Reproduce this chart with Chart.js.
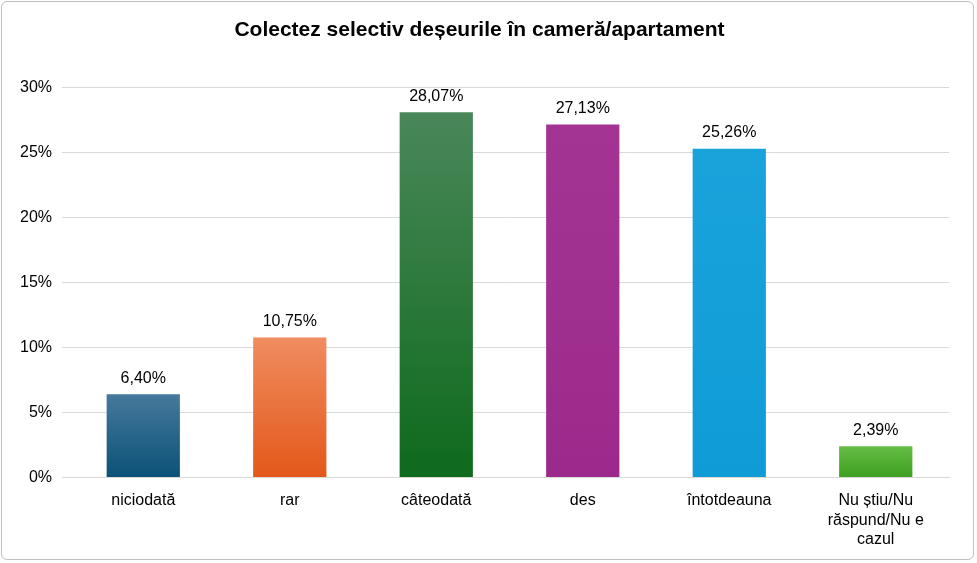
<!DOCTYPE html>
<html><head><meta charset="utf-8">
<script src="https://cdn.jsdelivr.net/npm/chart.js@4"></script>
<style>
html,body{margin:0;padding:0;background:#fff;}
#wrap{position:absolute;left:1px;top:1px;width:973px;height:559px;border:1px solid #bfbfbf;border-radius:6px;box-sizing:border-box;}
canvas{display:block;}
</style></head><body>
<div id="wrap"><canvas id="c"></canvas></div>
<script>
const categories=[["niciodată"],["rar"],["câteodată"],["des"],["întotdeauna"],["Nu știu/Nu","răspund/Nu e","cazul"]];
const values=[6.40,10.75,28.07,27.13,25.26,2.39];
const topColors=["#46799b","#f08c60","#4a875a","#a33494","#1aa3db","#66bd45"];
const bottomColors=["#0b5178","#e3581a","#0e6a1c","#9c2a8c","#0f9cd6","#3d9e1f"];
const ticks=[0,5,10,15,20,25,30];

const labelPlugin={id:'lbl',afterDatasetsDraw(chart){
  const ctx=chart.ctx;const meta=chart.getDatasetMeta(0);
  ctx.save();ctx.font='16px "Liberation Sans", Arial';ctx.fillStyle='#000';ctx.textAlign='center';ctx.textBaseline='bottom';
  meta.data.forEach((b,i)=>{ctx.fillText(values[i].toFixed(2).replace('.',',')+'%',b.x,b.y-8);});
  ctx.restore();}};

new Chart(document.getElementById('c'),{
  type:'bar',
  data:{labels:categories,datasets:[{data:values,
    backgroundColor(c){const ch=c.chart;const a=ch.chartArea;const ys=ch.scales.y;
      if(!a||!ys)return topColors[c.dataIndex];
      let yTop=ys.getPixelForValue(values[c.dataIndex]);
      if(!isFinite(yTop)||!isFinite(a.bottom)||yTop>=a.bottom)return topColors[c.dataIndex];
      const g=ch.ctx.createLinearGradient(0,yTop,0,a.bottom);
      g.addColorStop(0,topColors[c.dataIndex]);g.addColorStop(1,bottomColors[c.dataIndex]);return g;},
    categoryPercentage:0.5,barPercentage:1}]},
  options:{responsive:true,maintainAspectRatio:false,animation:false,
    layout:{padding:{left:8,right:24,top:8,bottom:4}},
    plugins:{legend:{display:false},tooltip:{enabled:false},
      title:{display:true,text:'Colectez selectiv deșeurile în cameră/apartament',
        font:{family:'"Liberation Sans", Arial',size:21,weight:'bold'},color:'#000',padding:{top:8,bottom:44}}},
    scales:{
      x:{grid:{display:false},border:{color:'#d9d9d9'},
        ticks:{color:'#000',font:{family:'"Liberation Sans", Arial',size:16},maxRotation:0,padding:6}},
      y:{min:0,max:30,afterBuildTicks(s){s.ticks=ticks.map(v=>({value:v}));},
        grid:{color:'#d9d9d9'},border:{display:false},
        ticks:{color:'#000',font:{family:'"Liberation Sans", Arial',size:16},padding:10,callback:v=>v+'%'}}
    }},
  plugins:[labelPlugin]
});
</script></body></html>
